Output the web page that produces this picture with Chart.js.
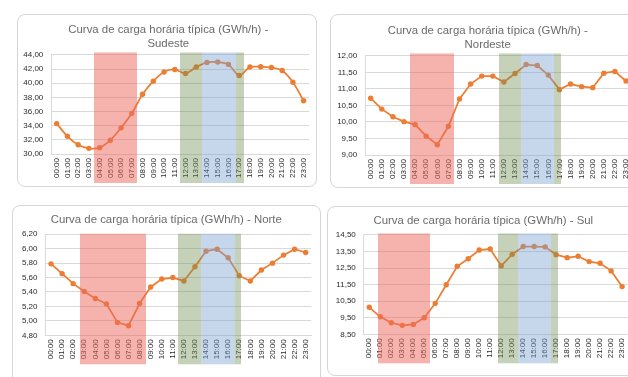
<!DOCTYPE html>
<html>
<head>
<meta charset="utf-8">
<script src="https://cdn.jsdelivr.net/npm/chart.js@4.4.1/dist/chart.umd.min.js"></script>
<style>
  html, body { margin: 0; padding: 0; background: #fff; width: 628px; height: 377px; overflow: hidden; position: relative; }
  .box { position: absolute; border: 1px solid #d6d6d6; border-radius: 8px; box-sizing: border-box; background: #fff; }
  canvas { position: absolute; left: 0; top: 0; }
</style>
</head>
<body>
<div class="box" style="left:17px;top:14px;width:300px;height:173px"></div>
<div class="box" style="left:330px;top:14px;width:330px;height:174px"></div>
<div class="box" style="left:12px;top:205px;width:309px;height:200px"></div>
<div class="box" style="left:327px;top:206px;width:330px;height:170px"></div>
<canvas id="sudeste" width="680" height="377" style="width:680px;height:377px"></canvas>
<canvas id="nordeste" width="680" height="377" style="width:680px;height:377px"></canvas>
<canvas id="norte" width="680" height="377" style="width:680px;height:377px"></canvas>
<canvas id="sul" width="680" height="377" style="width:680px;height:377px"></canvas>
<script>
// Hourly categories shared by the four regions
const hours = ['00:00','01:00','02:00','03:00','04:00','05:00','06:00','07:00','08:00','09:00','10:00','11:00',
               '12:00','13:00','14:00','15:00','16:00','17:00','18:00','19:00','20:00','21:00','22:00','23:00'];

// Typical hourly load (GWh/h) per region
const sudeste  = [34.30, 32.50, 31.30, 30.80, 30.90, 31.95, 33.70, 35.75, 38.45, 40.30, 41.60, 41.95,
                  41.38, 42.29, 42.95, 43.00, 42.67, 41.10, 42.29, 42.33, 42.24, 41.81, 40.14, 37.52];
const nordeste = [10.72, 10.39, 10.16, 10.01, 9.92, 9.57, 9.31, 9.87, 10.70, 11.15, 11.39, 11.39,
                  11.21, 11.47, 11.74, 11.71, 11.42, 10.98, 11.15, 11.07, 11.04, 11.48, 11.53, 11.24];
const norte    = [5.79, 5.654, 5.516, 5.406, 5.309, 5.236, 4.979, 4.933, 5.24, 5.47, 5.58, 5.60,
                  5.553, 5.75, 5.966, 5.993, 5.874, 5.626, 5.553, 5.704, 5.80, 5.911, 5.993, 5.947];
const sul      = [10.13, 9.556, 9.198, 9.04, 9.098, 9.497, 10.37, 11.49, 12.61, 13.06, 13.59, 13.65,
                  12.63, 13.33, 13.80, 13.80, 13.78, 13.31, 13.13, 13.21, 12.89, 12.79, 12.33, 11.38];

// Value-axis ticks per region
const sudesteTicks  = [30, 32, 34, 36, 38, 40, 42, 44];
const nordesteTicks = [9.0, 9.5, 10.0, 10.5, 11.0, 11.5, 12.0];
const norteTicks    = [4.8, 5.0, 5.2, 5.4, 5.6, 5.8, 6.0, 6.2];
const sulTicks      = [8.5, 9.5, 10.5, 11.5, 12.5, 13.5, 14.5];

// Highlighted periods, in hours from the start of 00:00
const sudesteBands  = [{kind:'faixa1', from:4, to:8}, {kind:'faixa2', from:12, to:14},
                       {kind:'faixa3', from:14, to:17.17}, {kind:'faixa2', from:17.17, to:17.9}];
const nordesteBands = [{kind:'faixa1', from:4, to:8}, {kind:'faixa2', from:12.05, to:14.05},
                       {kind:'faixa3', from:14.05, to:17.02}, {kind:'faixa2', from:17.02, to:17.6}];
const norteBands    = [{kind:'faixa1', from:3.1, to:9.08}, {kind:'faixa2', from:12, to:14.05},
                       {kind:'faixa3', from:14.05, to:17.14}, {kind:'faixa2', from:17.14, to:17.63}];
const sulBands      = [{kind:'faixa1', from:1.32, to:6.02}, {kind:'faixa2', from:12.24, to:14},
                       {kind:'faixa3', from:14, to:17.06}, {kind:'faixa2', from:17.06, to:17.64}];

const bandColors = {
  faixa1: 'rgba(238,104,94,0.5)',
  faixa2: 'rgba(112,140,80,0.4)',
  faixa3: 'rgba(120,160,210,0.42)'
};

const ORANGE = '#ED7D31';
const TITLE_FONT = "'Liberation Sans', 'DejaVu Sans', sans-serif";
const TICK_FONT = "'Liberation Sans', 'DejaVu Sans', sans-serif";
const TICK_COLOR = '#2b2b2b';
const CANVAS_W = 680;
const LABEL_ROOM = 30;   // width kept for the value labels left of the plot

// Translucent period bands laid over the finished chart
const bandsPlugin = {
  id: 'faixas',
  afterDraw(chart, args, opts) {
    const { ctx, chartArea, scales: { x } } = chart;
    ctx.save();
    for (const b of opts.bands) {
      const x0 = Math.round(x.getPixelForValue(b.from - 0.5));
      const x1 = Math.round(x.getPixelForValue(b.to - 0.5));
      const y0 = chartArea.top - opts.above;
      const y1 = chartArea.bottom + opts.below;
      ctx.fillStyle = bandColors[b.kind];
      ctx.fillRect(x0, y0, x1 - x0, y1 - y0);
    }
    ctx.restore();
  }
};

const fmt = v => Number(v).toFixed(2).replace('.', ',');

// plot left/right and title centre are page pixels; the canvas covers the page from (0,0)
function makeChart(id, c) {
  const padLeft = c.plotLeft - LABEL_ROOM;
  const titleRight = 2 * c.titleCenter - padLeft;
  const spacer = titleRight - c.plotRight;
  return new Chart(document.getElementById(id), {
    type: 'line',
    data: {
      labels: hours,
      datasets: [{
        data: c.values,
        borderColor: ORANGE,
        backgroundColor: ORANGE,
        borderWidth: 1.75,
        pointRadius: 2.7,
        pointBorderWidth: 0,
        pointBackgroundColor: ORANGE,
        tension: c.tension,
        fill: false
      }]
    },
    options: {
      responsive: false,
      animation: false,
      devicePixelRatio: 1,
      layout: { padding: { left: padLeft, right: CANVAS_W - titleRight, top: c.titleTop, bottom: 0 } },
      plugins: {
        legend: { display: false },
        tooltip: { enabled: false },
        title: {
          display: true,
          text: c.title,
          color: '#6a6a6a',
          font: { family: TITLE_FONT, size: 11.4, weight: 'normal', lineHeight: 1.26 },
          padding: { top: 0, bottom: c.titleGap }
        },
        faixas: { bands: c.bands, above: c.above, below: 29 }
      },
      scales: {
        x: {
          offset: true,
          grid: { display: false, drawTicks: false },
          border: { display: true, color: '#d9d9d9', width: 1 },
          ticks: {
            autoSkip: false, minRotation: 90, maxRotation: 90, padding: 4,
            color: TICK_COLOR, font: { family: TICK_FONT, size: 8 }
          },
          afterFit(s) { s.height = c.axisHeight; }
        },
        y: {
          min: c.ticks[0],
          max: c.ticks[c.ticks.length - 1],
          grid: { color: '#d9d9d9', lineWidth: 1, drawTicks: false },
          border: { display: true, color: '#d9d9d9', width: 1 },
          ticks: {
            padding: 8, color: TICK_COLOR, font: { family: TICK_FONT, size: 8 },
            callback: v => fmt(v)
          },
          afterBuildTicks(s) { s.ticks = c.ticks.map(v => ({ value: v })); },
          afterFit(s) { s.width = LABEL_ROOM; }
        },
        // empty right-hand axis: only reserves the gap between plot and title box edge
        gap: {
          position: 'right',
          grid: { display: false, drawTicks: false },
          border: { display: false },
          ticks: { display: false },
          afterFit(s) { s.width = spacer; }
        }
      }
    },
    plugins: [bandsPlugin]
  });
}

makeChart('sudeste', {
  values: sudeste, ticks: sudesteTicks, bands: sudesteBands, tension: 0.3,
  title: ['Curva de carga horária típica (GWh/h) -', 'Sudeste'],
  plotLeft: 51.3, plotRight: 309, titleCenter: 168.3, titleTop: 22.8,
  titleGap: 3.45, axisHeight: 223, above: 2.5
});
makeChart('nordeste', {
  values: nordeste, ticks: nordesteTicks, bands: nordesteBands, tension: 0,
  title: ['Curva de carga horária típica (GWh/h) -', 'Nordeste'],
  plotLeft: 365.15, plotRight: 631.6, titleCenter: 487.7, titleTop: 23.5,
  titleGap: 3.75, axisHeight: 222, above: 2.5
});
makeChart('norte', {
  values: norte, ticks: norteTicks, bands: norteBands, tension: 0,
  title: 'Curva de carga horária típica (GWh/h) - Norte',
  plotLeft: 45.5, plotRight: 311.2, titleCenter: 166.3, titleTop: 212.8,
  titleGap: 7.1, axisHeight: 41.7, above: 0.5
});
makeChart('sul', {
  values: sul, ticks: sulTicks, bands: sulBands, tension: 0,
  title: 'Curva de carga horária típica (GWh/h) - Sul',
  plotLeft: 363.8, plotRight: 627.6, titleCenter: 483.3, titleTop: 213.8,
  titleGap: 6.8, axisHeight: 42.7, above: 1.5
});
</script>
</body>
</html>
